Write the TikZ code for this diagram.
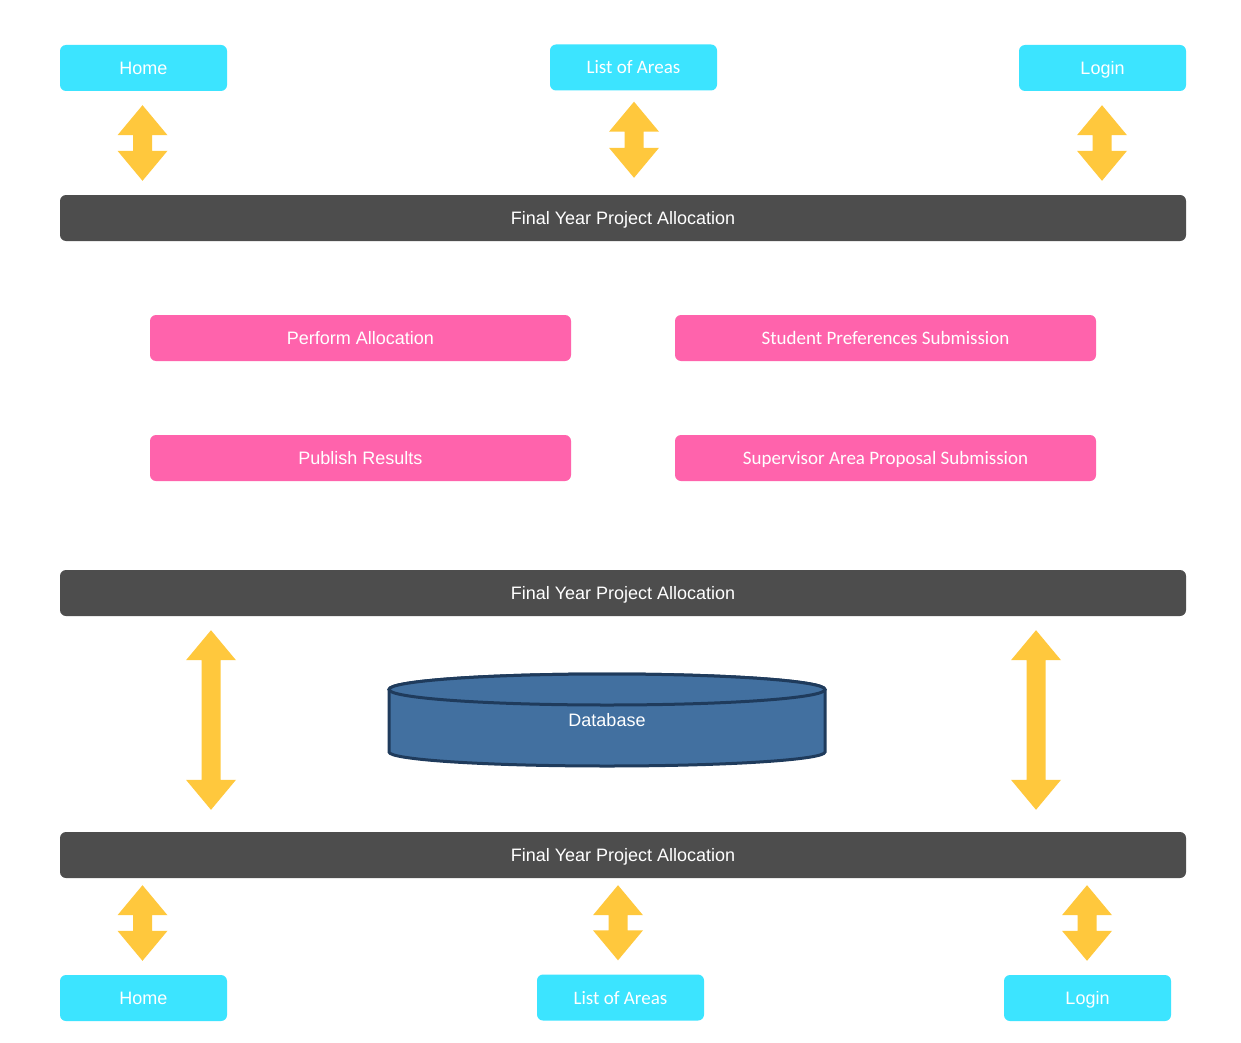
\documentclass[tikz,border=0pt]{standalone}
\usepackage{fontspec}
\setmainfont{Liberation Sans}
\newfontfamily\calibrifont{Carlito}
\usetikzlibrary{calc}

\definecolor{navcyan}{HTML}{3CE4FF}
\definecolor{barcol}{HTML}{4D4D4D}
\definecolor{pinkcol}{HTML}{FF63AC}
\definecolor{arrowcol}{HTML}{FFC83D}
\definecolor{dbfill}{HTML}{4270A0}
\definecolor{dbline}{HTML}{1F3B5C}

% vertical double-headed block arrow between two coordinates
% #1 top, #2 bottom, #3 half head width, #4 half shaft width, #5 head length
\newcommand\vdblarrow[5]{%
  \fill[arrowcol] let \p1=(#1), \p2=(#2) in
    (\x1,\y1) -- (\x1+#3,\y1-#5) -- (\x1+#4,\y1-#5) -- (\x1+#4,\y2+#5)
    -- (\x1+#3,\y2+#5) -- (\x1,\y2) -- (\x1-#3,\y2+#5) -- (\x1-#4,\y2+#5)
    -- (\x1-#4,\y1-#5) -- (\x1-#3,\y1-#5) -- cycle;}

\begin{document}
\begin{tikzpicture}[x=1pt,y=-1pt,
  box/.style={rounded corners=6pt, text=white, inner sep=0pt,
    text height=13pt, text depth=0pt,
    font=\fontsize{18}{20}\selectfont},
  navbox/.style={box, fill=navcyan, minimum width=167pt, minimum height=46pt},
  barbox/.style={box, fill=barcol, minimum width=1126pt, minimum height=46pt},
  taskbox/.style={box, fill=pinkcol, minimum width=421pt, minimum height=46pt},
  calfont/.style={font=\calibrifont\fontsize{19}{20}\selectfont}]

\fill[white] (0,0) rectangle (1241,1043);

% top navigation
\node[navbox] (home1) at (143.5,68) {Home};
\node[navbox, calfont] (areas1) at (633.5,67.5) {List of Areas};
\node[navbox] (login1) at (1102.5,68) {Login};

% system bars
\node[barbox] (bar1) at (623,218) {Final Year Project Allocation};
\node[barbox] (bar2) at (623,593) {Final Year Project Allocation};
\node[barbox] (bar3) at (623,855) {Final Year Project Allocation};

% functions
\node[taskbox] (perform) at (360.5,338) {Perform Allocation};
\node[taskbox, calfont] (prefs) at (885.5,338) {Student Preferences Submission};
\node[taskbox] (publish) at (360.5,458) {Publish Results};
\node[taskbox, calfont] (proposal) at (885.5,458) {Supervisor Area Proposal Submission};

% bottom navigation
\node[navbox] (home2) at (143.5,998) {Home};
\node[navbox, calfont] (areas2) at (620.5,997.5) {List of Areas};
\node[navbox] (login2) at (1087.5,998) {Login};

% database
\draw[dbline, line width=3pt, fill=dbfill]
  (389,752) arc[start angle=180, end angle=360, x radius=218pt, y radius=14pt]
  -- (825,689.5) arc[start angle=0, end angle=180, x radius=218pt, y radius=15.5pt]
  -- cycle;
\draw[dbline, line width=3pt, fill=dbfill] (607,689.5) ellipse[x radius=218pt, y radius=15.5pt];
\node[text=white, inner sep=0pt, text height=13pt, text depth=0pt,
  font=\fontsize{18}{20}\selectfont] (db) at (607,720) {Database};

% connector end points
\coordinate (a1t) at ($(home1.south)+(-1,14)$);
\coordinate (a1b) at ($(bar1.north -| home1.south)+(-1,-14)$);
\coordinate (a2t) at ($(areas1.south)+(0.5,11)$);
\coordinate (a2b) at ($(bar1.north -| areas1.south)+(0.5,-17)$);
\coordinate (a3t) at ($(login1.south)+(-0.5,14)$);
\coordinate (a3b) at ($(bar1.north -| login1.south)+(-0.5,-14)$);

\coordinate (lx) at (211,0);
\coordinate (rx) at (1036,0);
\coordinate (b1t) at ($(bar2.south -| lx)+(0,14)$);
\coordinate (b1b) at ($(bar3.north -| lx)+(0,-22)$);
\coordinate (b2t) at ($(bar2.south -| rx)+(0,14)$);
\coordinate (b2b) at ($(bar3.north -| rx)+(0,-22)$);

\coordinate (c1t) at ($(bar3.south -| home2.north)+(-1,7)$);
\coordinate (c1b) at ($(home2.north)+(-1,-14)$);
\coordinate (c2t) at ($(bar3.south -| areas2.north)+(-2.5,7)$);
\coordinate (c2b) at ($(areas2.north)+(-2.5,-14)$);
\coordinate (c3t) at ($(bar3.south -| login2.north)+(-0.5,7)$);
\coordinate (c3b) at ($(login2.north)+(-0.5,-14)$);

% connectors
\vdblarrow{a1t}{a1b}{25pt}{9.5pt}{30pt}
\vdblarrow{a2t}{a2b}{25pt}{9.5pt}{30pt}
\vdblarrow{a3t}{a3b}{25pt}{9.5pt}{30pt}
\vdblarrow{b1t}{b1b}{25pt}{9.5pt}{30pt}
\vdblarrow{b2t}{b2b}{25pt}{9.5pt}{30pt}
\vdblarrow{c1t}{c1b}{25pt}{9.5pt}{30pt}
\vdblarrow{c2t}{c2b}{25pt}{9.5pt}{30pt}
\vdblarrow{c3t}{c3b}{25pt}{9.5pt}{30pt}

\end{tikzpicture}
\end{document}
